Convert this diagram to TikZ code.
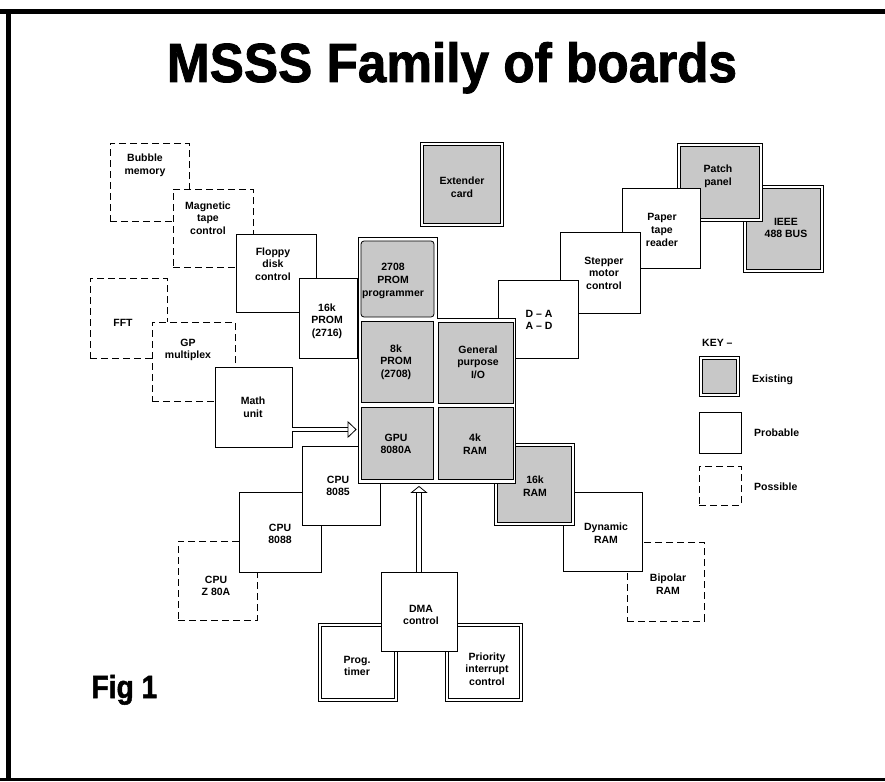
\documentclass[tikz,border=0pt]{standalone}
\usepackage{fontspec}
\setmainfont{Liberation Sans}
\newfontfamily\titlefont[FakeBold=1.6]{Liberation Sans Bold}
\usepackage{graphicx}
\usetikzlibrary{arrows.meta}
\definecolor{boardgray}{RGB}{200,200,200}

\begin{document}
\begin{tikzpicture}[x=1pt, y=-1pt,
    board/.style={rectangle, inner sep=0pt, line width=0.9pt, draw, fill=white},
    probable/.style={board},
    possible/.style={board, dash pattern=on 7pt off 4pt},
    % double outline: black band, then white band over its middle
    dblboard/.style={board, fill=#1, line width=3.8pt,
      postaction={draw=white, line width=2.2pt}},
    existing/.style={dblboard=boardgray},
    existwhite/.style={dblboard=white},
    cell/.style={board, fill=boardgray, line width=0.8pt},
    lbl/.style={inner sep=0pt, align=center, font=\fontsize{10.5}{12.6}\selectfont\bfseries},
    hollowarrow/.style={double=white, double distance=3.6pt, line width=0.8pt,
      -{Triangle[open, length=9pt, width=17pt]}}]
  \useasboundingbox (0,0) rectangle (885,781);
  % frame of the figure
  \draw[line width=5pt] (0,12) -- (885,12);
  \draw[line width=5pt] (8,12) -- (8,781);
  \draw[line width=3pt] (0,779.5) -- (885,779.5);

  \node[anchor=base] (title) at (452,82)
    {\scalebox{0.95}[1.02]{\fontsize{54}{60}\titlefont MSSS Family of boards}};
  \node[anchor=base west] (fig) at (88,698)
    {\scalebox{0.88}[1]{\fontsize{32}{36}\titlefont Fig 1}};

  % upper left chain
  \node[possible, minimum width=79, minimum height=78] (bubble) at (149.5,182) {};
  \node[lbl] (bubble-t) at (145,165) {Bubble\\memory};
  \node[possible, minimum width=80, minimum height=78] (magtape) at (213,228) {};
  \node[lbl] (magtape-t) at (208,218) {Magnetic\\tape\\control};
  \node[probable, minimum width=80, minimum height=78] (floppy) at (276,273) {};
  \node[lbl] (floppy-t) at (273,264) {Floppy\\disk\\control};
  \node[probable, minimum width=58, minimum height=80] (prom16) at (328,318) {};
  \node[lbl] (prom16-t) at (327,321) {16k\\PROM\\(2716)};

  % middle left chain
  \node[possible, minimum width=77, minimum height=80] (fft) at (128.5,318) {};
  \node[lbl] (fft-t) at (123,323) {FFT};
  \node[possible, minimum width=83, minimum height=79] (gpmux) at (193.5,361.5) {};
  \node[lbl] (gpmux-t) at (188,350) {GP\\multiplex};
  \node[probable, minimum width=77, minimum height=80] (math) at (253.5,407) {};
  \node[lbl] (math-t) at (253,407) {Math\\unit};

  % lower left chain
  \node[possible, minimum width=79, minimum height=79] (z80) at (217.5,580.5) {};
  \node[lbl] (z80-t) at (216,586) {CPU\\Z 80A};
  \node[probable, minimum width=82, minimum height=80] (cpu88) at (280,532) {};
  \node[lbl] (cpu88-t) at (280,534) {CPU\\8088};
  \node[probable, minimum width=78, minimum height=79] (cpu85) at (341,485.5) {};
  \node[lbl] (cpu85-t) at (338,486) {CPU\\8085};

  % upper right chain
  \node[existing, minimum width=77, minimum height=84] (ieee) at (783.5,229) {};
  \node[lbl] (ieee-t) at (786,228) {IEEE\\488 BUS};
  \node[existing, minimum width=82, minimum height=75] (patch) at (720,182.5) {};
  \node[lbl] (patch-t) at (718,176) {Patch\\panel};
  \node[probable, minimum width=78, minimum height=80] (paper) at (661,228) {};
  \node[lbl] (paper-t) at (662,230) {Paper\\tape\\reader};
  \node[probable, minimum width=80, minimum height=81] (stepper) at (600,272.5) {};
  \node[lbl] (stepper-t) at (604,273) {Stepper\\motor\\control};
  \node[probable, minimum width=80, minimum height=78] (da) at (538,319) {};
  \node[lbl] (da-t) at (539,320) {D -- A\\A -- D};

  % lower right chain
  \node[possible, minimum width=77, minimum height=79] (bipolar) at (665.5,581.5) {};
  \node[lbl] (bipolar-t) at (668,584) {Bipolar\\RAM};
  \node[probable, minimum width=79, minimum height=79] (dynram) at (602.5,531.5) {};
  \node[lbl] (dynram-t) at (606,533) {Dynamic\\RAM};
  \node[existing, minimum width=77, minimum height=79] (ram16) at (534.5,484.5) {};
  \node[lbl] (ram16-t) at (535,486) {16k\\RAM};

  % bottom group
  \node[existwhite, minimum width=76, minimum height=75] (timer) at (358,662.5) {};
  \node[lbl] (timer-t) at (357,666) {Prog.\\timer};
  \node[existwhite, minimum width=74, minimum height=75] (prio) at (484,662.5) {};
  \node[lbl] (prio-t) at (487,669) {Priority\\interrupt\\control};
  \node[probable, minimum width=76, minimum height=79] (dma) at (419,611.5) {};
  \node[lbl] (dma-t) at (421,615) {DMA\\control};

  \node[existing, minimum width=80, minimum height=81] (extender) at (462,184.5) {};
  \node[lbl] (extender-t) at (462,187) {Extender\\card};

  % central block
  \draw[line width=0.8pt, fill=white] (358,237) -- (437,237) -- (437,318)
    -- (515,318) -- (515,483) -- (358,483) -- cycle;
  \node[cell, rounded corners=3pt, minimum width=73, minimum height=76] (prom27) at (397.5,279) {};
  \node[lbl] (prom27-t) at (393,281) {2708\\PROM\\programmer};
  \node[cell, minimum width=72, minimum height=81] (prom8) at (397,361.5) {};
  \node[lbl] (prom8-t) at (396,362) {8k\\PROM\\(2708)};
  \node[cell, minimum width=75, minimum height=81] (gpio) at (475.5,362.5) {};
  \node[lbl] (gpio-t) at (478,362) {General\\purpose\\I/O};
  \node[cell, minimum width=72, minimum height=72] (gpu) at (397,443) {};
  \node[lbl] (gpu-t) at (396,444) {GPU\\8080A};
  \node[cell, minimum width=75, minimum height=72] (ram4k) at (475.5,443) {};
  \node[lbl] (ram4k-t) at (475,444) {4k\\RAM};

  % bus arrows
  \draw[hollowarrow, shorten >=4pt] (math.east |- 0,429.5) -- (gpu.west |- 0,429.5);
  \draw[hollowarrow, -{Triangle[open, length=7pt, width=17pt]}, shorten >=6.5pt]
    (dma.north) -- (dma.north |- gpu.south);

  % key
  \node[lbl, anchor=west] (key-t) at (702,343) {KEY --};
  \node[existing, minimum width=37, minimum height=37] (key-ex) at (719.5,376.5) {};
  \node[lbl, anchor=west] (key-ex-t) at (752,380) {Existing};
  \node[probable, minimum width=42, minimum height=41] (key-pr) at (720,432.5) {};
  \node[lbl, anchor=west] (key-pr-t) at (754,433) {Probable};
  \node[possible, minimum width=42, minimum height=39] (key-po) at (720,485.5) {};
  \node[lbl, anchor=west] (key-po-t) at (754,487) {Possible};
\end{tikzpicture}
\end{document}
